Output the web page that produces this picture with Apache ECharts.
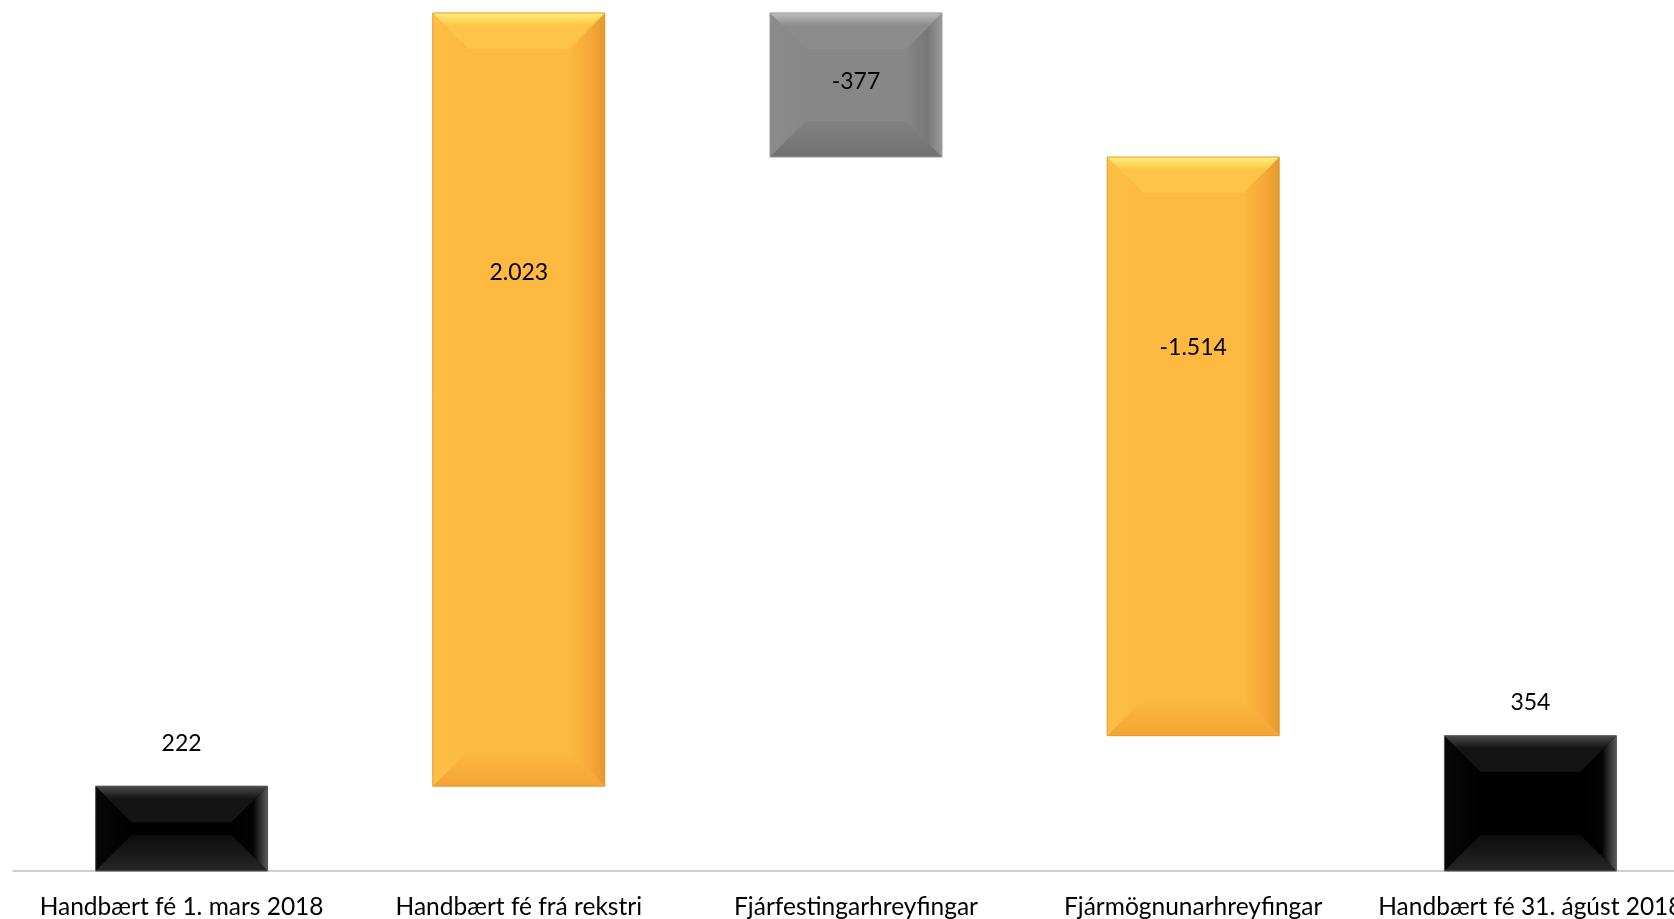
<!DOCTYPE html>
<html>
<head>
<meta charset="utf-8">
<script src="https://cdn.jsdelivr.net/npm/echarts@6/dist/echarts.min.js"></script>
<style>
html,body{margin:0;padding:0;background:#fff;}
#chart{width:1674px;height:919px;}
</style>
</head>
<body>
<div id="chart"></div>
<script>
// ---- data ----
const categories = ['Handbært fé 1. mars 2018','Handbært fé frá rekstri','Fjárfestingarhreyfingar','Fjármögnunarhreyfingar','Handbært fé 31. ágúst 2018'];
const values = [222, 2023, -377, -1514, 354];
const isTotal = [true, false, false, false, true];

// ---- styles (not data) ----
const palettes = {
  black:  {base:'#000000', top:['#4a4a4a','#141414'], bottom:['#0c0c0c','#262626'], left:'#080808', right:'#030303', edge:'#5a5a5a'},
  orange: {base:'#FDB940', top:['#FFF07A','#FEC447'], bottom:['#FDB940','#F3A534'], left:'#FEBE46', right:'#F6A838', edge:'#E49A2E'},
  gray:   {base:'#878787', top:['#BDBDBD','#8C8C8C'], bottom:['#828282','#707070'], left:'#8B8B8B', right:'#777777', edge:'#9A9A9A'}
};
const barPalette = ['black','orange','gray','orange','black'];
// label offset in px: for totals measured from bar top, otherwise from bar centre
const labelShift = [-43, -127, -3, -99, -33];

function fmt(v){
  const s = String(Math.abs(v)).replace(/\B(?=(\d{3})+(?!\d))/g,'.');
  return (v < 0 ? '-' : '') + s;
}

// build waterfall segments
const segs = [];
let run = 0;
values.forEach((v,i)=>{
  let low, high;
  if (isTotal[i]) { low = 0; high = v; run = v; }
  else { const a = run, b = run + v; low = Math.min(a,b); high = Math.max(a,b); run = b; }
  segs.push([i, low, high, v]);
});

const chart = echarts.init(document.getElementById('chart'));
const FONT = 'Lato';
chart.setOption({
  animation:false,
  grid:{left:13, top:11, width:1686, bottom:48, outerBoundsMode:'none', containLabel:false},
  xAxis:{type:'category', data:categories,
    axisLine:{lineStyle:{color:'#BFBFBF', width:1.5}},
    axisTick:{show:false},
    axisLabel:{color:'#000', fontFamily:FONT, fontSize:24.5, margin:24, interval:0, hideOverlap:false}
  },
  yAxis:{type:'value', min:0, max:2250, show:false, splitLine:{show:false}},
  series:[{
    type:'custom',
    data:segs,
    encode:{x:0, y:[1,2]},
    renderItem:function(params, api){
      const i = api.value(0), low = api.value(1), high = api.value(2), v = api.value(3);
      const pT = api.coord([i, high]), pB = api.coord([i, low]);
      const band = api.size([1,0])[0];
      const w = band*0.51;
      const x0 = pT[0]-w/2, x1 = x0+w, yT = pT[1], yB = pB[1];
      const h = yB-yT;
      const b = Math.min(36, h/2, w/2);
      const P = palettes[barPalette[i]];
      const G = echarts.graphic.LinearGradient;
      const children = [
        {type:'rect', shape:{x:x0,y:yT,width:w,height:h}, style:{fill:P.base}},
        {type:'polygon', shape:{points:[[x0,yT],[x0+b,yT+b],[x0+b,yB-b],[x0,yB]]}, style:{fill:new G(0,0,1,0,[{offset:0,color:P.left},{offset:1,color:P.base}])}},
        {type:'polygon', shape:{points:[[x1,yT],[x1-b,yT+b],[x1-b,yB-b],[x1,yB]]}, style:{fill:new G(0,0,1,0,[{offset:0,color:P.base},{offset:0.6,color:P.right},{offset:1,color:P.edge}])}},
        {type:'polygon', shape:{points:[[x0,yB],[x1,yB],[x1-b,yB-b],[x0+b,yB-b]]}, style:{fill:new G(0,0,0,1,[{offset:0,color:P.bottom[0]},{offset:1,color:P.bottom[1]}])}},
        {type:'polygon', shape:{points:[[x0,yT],[x1,yT],[x1-b,yT+b],[x0+b,yT+b]]}, style:{fill:new G(0,0,0,1,[{offset:0,color:P.top[0]},{offset:0.35,color:P.top[1]},{offset:1,color:P.top[1]}])}},
        {type:'rect', shape:{x:x0,y:yT,width:w,height:h}, style:{fill:null, stroke:P.edge, lineWidth:1}}
      ];
      let ty;
      if (isTotal[i]) ty = yT + labelShift[i];
      else ty = (yT+yB)/2 + labelShift[i];
      children.push({type:'text', style:{text:fmt(v), x:pT[0], y:ty, align:'center', verticalAlign:'middle', fill:'#000', font:'23px '+FONT}});
      return {type:'group', children:children};
    }
  }]
});
</script>
</body>
</html>
